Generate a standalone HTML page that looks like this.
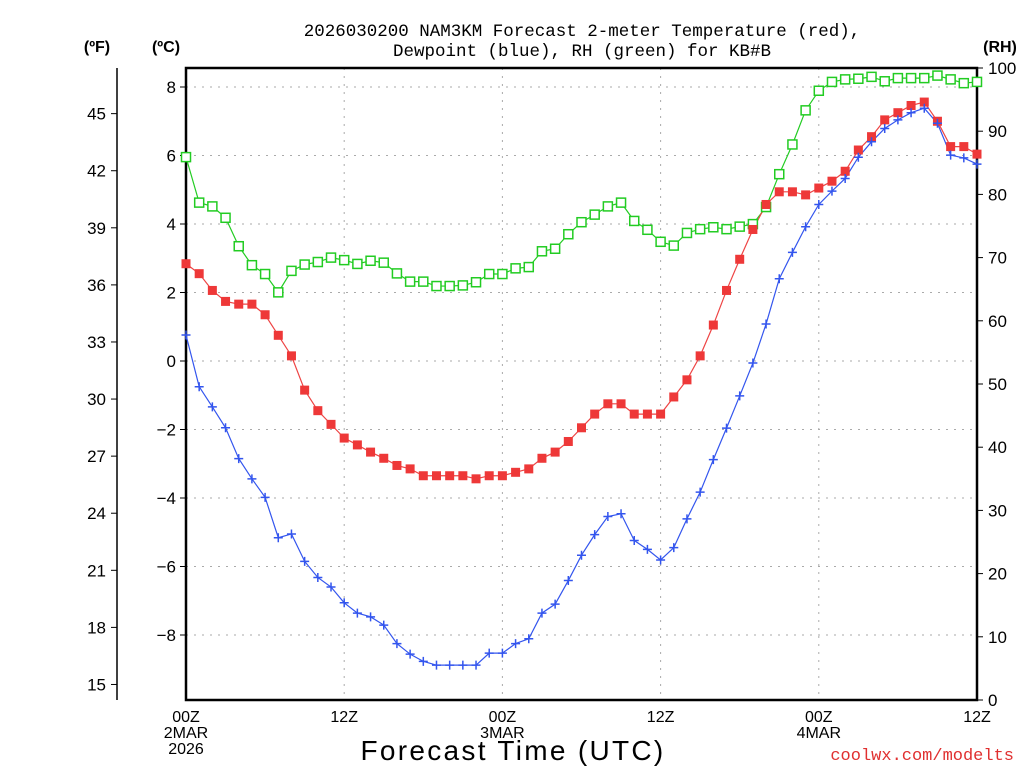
<!DOCTYPE html>
<html><head><meta charset="utf-8"><style>
body{margin:0;background:#fff;}
svg{display:block;font-family:"Liberation Sans",sans-serif;}
</style></head><body>
<svg id="chart" width="1024" height="768">
<text x="582" y="36" text-anchor="middle" font-size="17.5" font-family="Liberation Mono, monospace">2026030200 NAM3KM Forecast 2-meter Temperature (red),</text>
<text x="582" y="56" text-anchor="middle" font-size="17.5" font-family="Liberation Mono, monospace">Dewpoint (blue), RH (green) for KB#B</text>
<text x="97" y="52" text-anchor="middle" font-size="16" font-weight="bold">(ºF)</text>
<text x="166" y="52" text-anchor="middle" font-size="16" font-weight="bold">(ºC)</text>
<text x="1000" y="52" text-anchor="middle" font-size="16" font-weight="bold">(RH)</text>
<text x="513" y="760" text-anchor="middle" font-size="28" letter-spacing="2.3">Forecast Time (UTC)</text>
<text x="1014" y="760" text-anchor="end" font-size="17" font-family="Liberation Mono, monospace" fill="#e03030">coolwx.com/modelts</text>
<g id="grid"></g><g id="axes"></g><g id="series"></g>
</svg>
<script>
const hours = Array.from({length:61},(_, i)=>i);
const tempC = [2.84,2.55,2.06,1.74,1.66,1.66,1.35,0.75,0.15,-0.85,-1.45,-1.85,-2.25,-2.45,-2.66,-2.84,-3.05,-3.15,-3.35,-3.35,-3.35,-3.35,-3.44,-3.35,-3.35,-3.25,-3.15,-2.84,-2.66,-2.35,-1.95,-1.55,-1.25,-1.25,-1.55,-1.55,-1.55,-1.05,-0.55,0.15,1.05,2.06,2.97,3.84,4.57,4.94,4.94,4.85,5.05,5.25,5.54,6.16,6.55,7.04,7.25,7.46,7.56,7.0,6.26,6.26,6.04];
const dewC = [0.76,-0.75,-1.34,-1.95,-2.85,-3.44,-3.98,-5.16,-5.05,-5.85,-6.32,-6.6,-7.06,-7.36,-7.47,-7.71,-8.25,-8.56,-8.77,-8.88,-8.88,-8.88,-8.88,-8.53,-8.53,-8.25,-8.11,-7.36,-7.1,-6.41,-5.67,-5.07,-4.54,-4.46,-5.24,-5.5,-5.81,-5.45,-4.61,-3.83,-2.88,-1.96,-1.02,-0.06,1.08,2.4,3.17,3.92,4.57,4.96,5.33,5.95,6.4,6.79,7.04,7.25,7.38,6.94,6.01,5.93,5.75];
const rh = [85.9,78.7,78.1,76.3,71.8,68.8,67.4,64.5,67.9,68.9,69.3,70.0,69.6,69.0,69.5,69.2,67.5,66.2,66.2,65.5,65.5,65.6,66.1,67.4,67.4,68.3,68.5,71.0,71.4,73.7,75.6,76.8,78.1,78.7,75.8,74.4,72.5,71.9,73.9,74.5,74.8,74.5,74.9,75.3,78.0,83.2,87.9,93.3,96.4,97.8,98.2,98.3,98.6,97.9,98.4,98.4,98.4,98.8,98.2,97.6,97.8];
const cTicks = [-8,-6,-4,-2,0,2,4,6,8];
const fTicks = [15,18,21,24,27,30,33,36,39,42,45];
const rhTicks = [0,10,20,30,40,50,60,70,80,90,100];
const xTickHours = [0,12,24,36,48,60];
const xTickLabels = [["00Z","2MAR","2026"],["12Z"],["00Z","3MAR"],["12Z"],["00Z","4MAR"],["12Z"]];

const L=186,R=977,T=68,B=700;
const xs=h=>L+(R-L)*h/60;
const yc=c=>361-34.25*c;
const yf=f=>yc((f-32)*5/9);
const yr=r=>B-(B-T)*r/100;
const NS="http://www.w3.org/2000/svg";
function mk(tag,attrs,parent){const e=document.createElementNS(NS,tag);for(const k in attrs)e.setAttribute(k,attrs[k]);parent.appendChild(e);return e;}
const grid=document.getElementById('grid'),axes=document.getElementById('axes'),ser=document.getElementById('series');

cTicks.forEach(c=>{
  const g=mk('line',{x1:L,x2:R,y1:yc(c),y2:yc(c),stroke:'#aaa','stroke-dasharray':'2,6'},grid);
  
  
  const t=mk('line',{x1:L-6,x2:L,y1:yc(c),y2:yc(c),stroke:'#000'},axes);
  
  
  const l=mk('text',{x:L-10,y:yc(c)+6,'text-anchor':'end','font-size':17},axes);
  l.textContent=c<0?'\u2212'+(-c):c;
  
  
});
xTickHours.forEach((h,i)=>{
  if(h>0&&h<60){const g=mk('line',{x1:xs(h),x2:xs(h),y1:T,y2:B,stroke:'#aaa','stroke-dasharray':'2,6'},grid);
  
  }
  xTickLabels[i].forEach((s,j)=>{
    const l=mk('text',{x:xs(h),y:722+j*16,'text-anchor':'middle','font-size':16},axes);
    l.textContent=s;
    
    
  });
});
const fa=mk('line',{x1:117,x2:117,y1:T,y2:B,stroke:'#000','stroke-width':1.5},axes);


fTicks.forEach(f=>{
  const t=mk('line',{x1:111,x2:117,y1:yf(f),y2:yf(f),stroke:'#000'},axes);
  
  
  const l=mk('text',{x:106,y:yf(f)+6,'text-anchor':'end','font-size':17},axes);
  l.textContent=f;
  
  
});
rhTicks.forEach(r=>{
  const t=mk('line',{x1:R,x2:R+6,y1:yr(r),y2:yr(r),stroke:'#000'},axes);
  
  
  const l=mk('text',{x:R+11,y:yr(r)+6,'font-size':17},axes);
  l.textContent=r;
  
  
});
const fr=mk('rect',{x:L,y:T,width:R-L,height:B-T,fill:'none',stroke:'#000','stroke-width':2.5},axes);



function line(vals,yfn,color,name){
  const p=mk('polyline',{points:vals.map((v,i)=>xs(hours[i])+','+yfn(v)).join(' '),fill:'none',stroke:color,'stroke-width':1.2},ser);
  
  
}
line(rh,yr,'#22cc22','rh');
line(tempC,yc,'#ee4444','temperature');
line(dewC,yc,'#3355ee','dewpoint');
rh.forEach((v,i)=>{
  const m=mk('rect',{x:xs(hours[i])-4.5,y:yr(v)-4.5,width:9,height:9,fill:'#fff',stroke:'#22cc22','stroke-width':1.5},ser);
  
  
});
tempC.forEach((v,i)=>{
  const m=mk('rect',{x:xs(hours[i])-4.5,y:yc(v)-4.5,width:9,height:9,fill:'#ee3838'},ser);
  
  
});
dewC.forEach((v,i)=>{
  const x=xs(hours[i]),y=yc(v);
  const m=mk('path',{d:`M${x-4.5},${y}H${x+4.5}M${x},${y-4.5}V${y+4.5}`,stroke:'#3355ee','stroke-width':1.5},ser);
  
  
});
</script>
</body></html>
